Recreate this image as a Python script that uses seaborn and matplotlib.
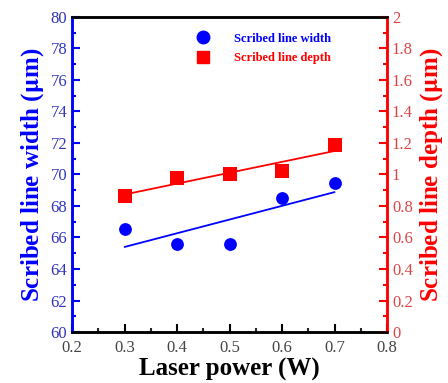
import matplotlib
matplotlib.use("Agg")
import matplotlib.pyplot as plt
import seaborn as sns
import numpy as np
import pandas as pd
from matplotlib.ticker import MultipleLocator
from matplotlib.lines import Line2D

sns.set_style("white")
plt.rcParams['font.family'] = ['Liberation Serif', 'DejaVu Serif']
plt.rcParams['mathtext.fontset'] = 'stix'

laser_power = [0.3, 0.4, 0.5, 0.6, 0.7]
line_width = [66.55, 65.6, 65.6, 68.5, 69.45]
line_depth = [0.865, 0.98, 1.0, 1.02, 1.19]

BLUE = "#0000ff"
RED = "#ff0000"

df = pd.DataFrame({"power": laser_power, "width": line_width, "depth": line_depth})

fig = plt.figure(figsize=(4.48, 3.83), dpi=100)
ax = fig.add_axes([0.161, 0.133, 0.703, 0.823])
ax2 = ax.twinx()

sns.regplot(data=df, x="power", y="width", ax=ax, ci=None, color=BLUE, marker="o",
            scatter_kws=dict(s=85, linewidths=0, alpha=1, zorder=3),
            line_kws=dict(lw=1.3))
sns.regplot(data=df, x="power", y="depth", ax=ax2, ci=None, color=RED, marker="s",
            scatter_kws=dict(s=90, linewidths=0, alpha=1, zorder=3),
            line_kws=dict(lw=1.3))

ax.set_xlim(0.2, 0.8)
ax.set_ylim(60, 80)
ax2.set_ylim(0, 2)

ax.xaxis.set_minor_locator(MultipleLocator(0.05))
ax.yaxis.set_minor_locator(MultipleLocator(1))
ax2.yaxis.set_minor_locator(MultipleLocator(0.1))

ax.set_xticks(np.arange(0.2, 0.81, 0.1))
ax.set_xticklabels(["0.2", "0.3", "0.4", "0.5", "0.6", "0.7", "0.8"])
ax.set_yticks(np.arange(60, 81, 2))
ax.set_yticklabels([str(v) for v in range(60, 81, 2)])
ax2.set_yticks(np.arange(0, 2.01, 0.2))
ax2.set_yticklabels(["0", "0.2", "0.4", "0.6", "0.8", "1", "1.2", "1.4", "1.6", "1.8", "2"])

ax.tick_params(axis="x", which="major", direction="in", length=6, width=1.5,
               colors="black", labelcolor="#444444", labelsize=12, bottom=True, top=False, pad=6)
ax.tick_params(axis="x", which="minor", direction="in", length=3, width=1.5, bottom=True, top=False)
ax.tick_params(axis="y", which="major", direction="in", length=6, width=1.5,
               colors=BLUE, labelcolor="#3333bb", labelsize=12, left=True, right=False)
ax.tick_params(axis="y", which="minor", direction="in", length=3, width=1.5, colors=BLUE, left=True, right=False)
ax2.tick_params(axis="y", which="major", direction="in", length=6, width=1.5,
                colors=RED, labelcolor="#dd4444", labelsize=12, right=True, left=False)
ax2.tick_params(axis="y", which="minor", direction="in", length=3, width=1.5, colors=RED, right=True, left=False)

for a in (ax, ax2):
    for s in a.spines.values():
        s.set_visible(True)
        s.set_linewidth(1.8)
        s.set_color("black")
    a.spines["left"].set_color(BLUE)
    a.spines["right"].set_color(RED)

ax.set_xlabel("Laser power (W)", fontsize=18, fontweight="bold", color="black", labelpad=1)
ax.set_ylabel("Scribed line width ($\\mathbf{\\mu}$m)", fontsize=18, fontweight="bold", color=BLUE, labelpad=3)
ax2.set_ylabel("Scribed line depth ($\\mathbf{\\mu}$m)", fontsize=18, fontweight="bold", color=RED, labelpad=4)

handles = [
    Line2D([], [], marker="o", color=BLUE, linestyle="none", markersize=9),
    Line2D([], [], marker="s", color=RED, linestyle="none", markersize=9),
]
leg = ax.legend(handles, ["Scribed line width", "Scribed line depth"], loc="upper left",
                bbox_to_anchor=(0.36, 0.985), frameon=False, prop=dict(size=9, weight="bold"),
                handletextpad=2.0, labelspacing=0.6, handlelength=1.0)
for t, c in zip(leg.get_texts(), [BLUE, RED]):
    t.set_color(c)

fig.savefig("out.png", dpi=100)
